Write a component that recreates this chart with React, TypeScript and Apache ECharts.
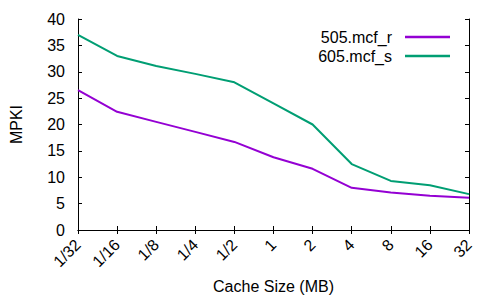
import React, { useEffect, useRef } from "react";
import * as echarts from "echarts";

const categories = ["1/32", "1/16", "1/8", "1/4", "1/2", "1", "2", "4", "8", "16", "32"];
const mcfR = [26.5, 22.4, 20.5, 18.6, 16.7, 13.8, 11.6, 8.0, 7.1, 6.5, 6.1];
const mcfS = [37.0, 33.0, 31.1, 29.6, 28.0, 24.0, 20.0, 12.5, 9.3, 8.5, 6.8];
const seriesNames = ["505.mcf_r", "605.mcf_s"];

const FONT = "'Liberation Sans', Arial, sans-serif";
const FS = 16;

export default function App() {
  const ref = useRef<HTMLDivElement>(null);
  useEffect(() => {
    document.body.style.margin = "0";
    const chart = echarts.init(ref.current!, null, { renderer: "svg" });
    const axisLine = { show: true, lineStyle: { color: "#000", width: 1 } };
    const tick = { show: true, inside: true, length: 4, lineStyle: { color: "#000", width: 1 } };
    chart.setOption({
      animation: false,
      backgroundColor: "#fff",
      textStyle: { fontFamily: FONT },
      grid: { left: 74, right: 31, top: 19, bottom: 70, containLabel: false },
      legend: {
        orient: "vertical",
        right: 45,
        top: 23,
        align: "right",
        icon: "rect",
        itemWidth: 45,
        itemHeight: 2.5,
        itemGap: 1,
        data: seriesNames,
        textStyle: { fontFamily: FONT, fontSize: FS, color: "#000", padding: [0, 8, 0, 0], lineHeight: 18 },
      },
      xAxis: [
        {
          type: "category",
          data: categories,
          boundaryGap: false,
          axisLine,
          axisTick: { ...tick, alignWithLabel: true },
          axisLabel: { rotate: 45, margin: 12, fontFamily: FONT, fontSize: FS, color: "#000", interval: 0 },
          splitLine: { show: false },
          name: "Cache Size (MB)",
          nameLocation: "middle",
          nameGap: 48,
          nameTextStyle: { fontFamily: FONT, fontSize: FS, color: "#000" },
        },
        {
          type: "category",
          data: categories,
          boundaryGap: false,
          position: "top",
          axisLine,
          axisTick: tick,
          axisLabel: { show: false },
          splitLine: { show: false },
        },
      ],
      yAxis: [
        {
          type: "value",
          min: 0,
          max: 40,
          interval: 5,
          axisLine,
          axisTick: tick,
          axisLabel: { margin: 13, fontFamily: FONT, fontSize: FS, color: "#000" },
          splitLine: { show: false },
          name: "MPKI",
          nameLocation: "middle",
          nameGap: 54,
          nameRotate: 90,
          nameTextStyle: { fontFamily: FONT, fontSize: FS, color: "#000" },
        },
        {
          type: "value",
          min: 0,
          max: 40,
          interval: 5,
          position: "right",
          axisLine,
          axisTick: tick,
          axisLabel: { show: false },
          splitLine: { show: false },
        },
      ],
      series: [
        {
          name: seriesNames[0],
          type: "line",
          data: mcfR,
          symbol: "none",
          lineStyle: { color: "#9400d3", width: 2 },
          itemStyle: { color: "#9400d3" },
        },
        {
          name: seriesNames[1],
          type: "line",
          data: mcfS,
          symbol: "none",
          lineStyle: { color: "#009e73", width: 2 },
          itemStyle: { color: "#009e73" },
        },
      ],
    });
    return () => chart.dispose();
  }, []);
  return <div ref={ref} style={{ width: 500, height: 300 }} />;
}
